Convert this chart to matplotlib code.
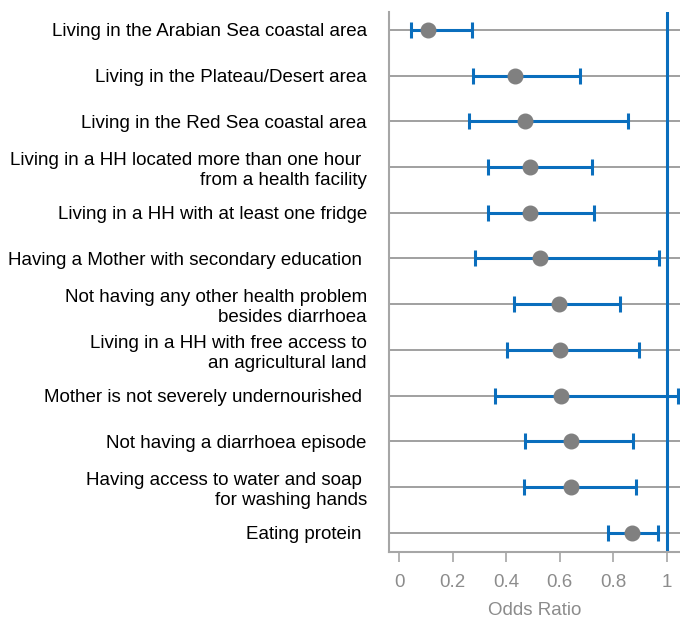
import numpy as np
import matplotlib
matplotlib.use('Agg')
import matplotlib.pyplot as plt

plt.rcParams['font.family'] = ['Liberation Sans', 'DejaVu Sans']

labels = [
    'Living in the Arabian Sea coastal area',
    'Living in the Plateau/Desert area',
    'Living in the Red Sea coastal area',
    'Living in a HH located more than one hour \nfrom a health facility',
    'Living in a HH with at least one fridge',
    'Having a Mother with secondary education ',
    'Not having any other health problem\nbesides diarrhoea',
    'Living in a HH with free access to\nan agricultural land',
    'Mother is not severely undernourished ',
    'Not having a diarrhoea episode',
    'Having access to water and soap \nfor washing hands',
    'Eating protein ',
]
odds = [0.11, 0.432, 0.472, 0.491, 0.491, 0.525, 0.597, 0.600, 0.607, 0.641, 0.644, 0.871]
ci_low = [0.045, 0.275, 0.26, 0.333, 0.332, 0.285, 0.431, 0.402, 0.357, 0.47, 0.467, 0.782]
ci_high = [0.274, 0.676, 0.856, 0.721, 0.729, 0.972, 0.827, 0.895, 1.041, 0.875, 0.885, 0.969]

blue = '#0a6ebd'
gray = '#a6a6a6'

odds = np.array(odds)
ci_low = np.array(ci_low)
ci_high = np.array(ci_high)
y = np.arange(len(labels))[::-1] + 1

fig = plt.figure(figsize=(6.8, 6.19), dpi=100)
ax = fig.add_axes([389 / 680, 1 - 552 / 619, 1 - 389 / 680, 540 / 619])

ax.set_yticks(y)
ax.set_yticklabels(labels, fontsize=13.5, ha='right')
ax.tick_params(axis='y', length=0, pad=16)
ax.grid(axis='y', color='#999999', lw=1.3, zorder=0)
ax.set_axisbelow(True)

ax.axvline(1, color=blue, lw=2.2, zorder=2)
ax.errorbar(odds, y, xerr=[odds - ci_low, ci_high - odds], fmt='none',
            ecolor=blue, elinewidth=2.2, capsize=6, capthick=2.2, zorder=3)
ax.plot(odds, y, 'o', color='#808080', ms=10.5, zorder=4)

ax.set_xlim(-0.0375, 1.05)
ax.set_ylim(0.58, 12.39)
ax.set_xticks([0, 0.2, 0.4, 0.6, 0.8, 1])
ax.set_xticklabels(['0', '0.2', '0.4', '0.6', '0.8', '1'])
ax.tick_params(axis='x', colors=gray, labelcolor='#8c8c8c', labelsize=13.5,
               length=7, width=1.2, pad=9)
ax.set_xlabel('Odds Ratio', fontsize=13.5, color='#8c8c8c', labelpad=8)

for s in ['top', 'right']:
    ax.spines[s].set_visible(False)
for s in ['left', 'bottom']:
    ax.spines[s].set_color(gray)
    ax.spines[s].set_linewidth(1.5)

fig.savefig('out.png', dpi=100)
